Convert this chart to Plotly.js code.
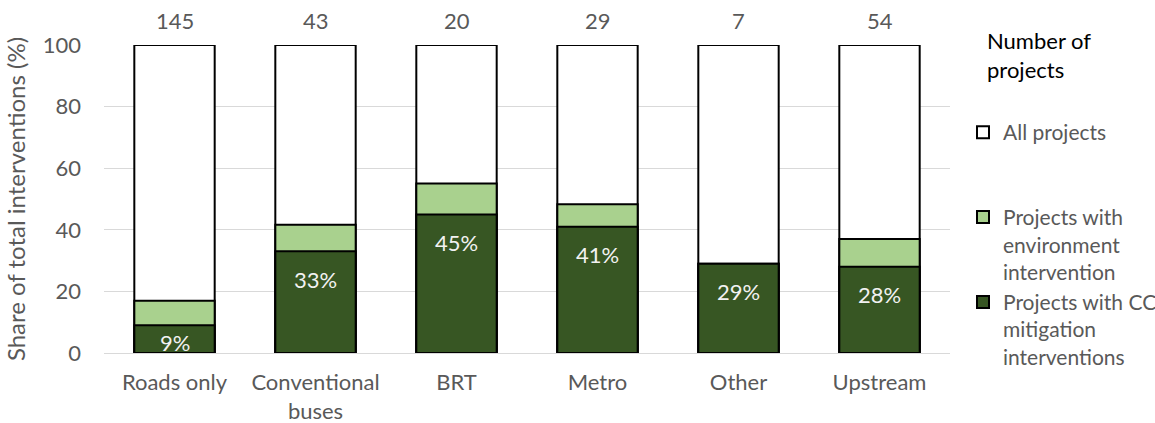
<!DOCTYPE html>
<html>
<head>
<meta charset="utf-8">
<script src="https://cdn.plot.ly/plotly-3.0.1.min.js"></script>
<style>html,body{margin:0;padding:0;background:#fff;}#chart{width:1155px;height:423px;}</style>
</head>
<body>
<div id="chart"></div>
<script>
const categories = ["Roads only", "Conventional<br>buses", "BRT", "Metro", "Other", "Upstream"];
const projectCounts = [145, 43, 20, 29, 7, 54];
const allProjects = [100, 100, 100, 100, 100, 100];
const envShare = [17, 41.6, 55, 48.3, 29, 37];
const ccShare = [9, 33, 45, 41, 29, 28];
const ccLabels = ["9%", "33%", "45%", "41%", "29%", "28%"];

const FONT = "Lato, 'Open Sans', sans-serif";
const GRAY = "#595959";
const FS = 22;

const traces = [
  {
    type: "bar", name: "All projects<br> <br> ", x: categories, y: allProjects,
    marker: {color: "#ffffff", line: {color: "#000000", width: 2}},
    hoverinfo: "none"
  },
  {
    type: "bar", name: "Projects with<br>environment<br>intervention", x: categories, y: envShare,
    marker: {color: "#a9d18e", line: {color: "#000000", width: 2}},
    hoverinfo: "none"
  },
  {
    type: "bar", name: "Projects with CC<br>mitigation<br>interventions", x: categories, y: ccShare,
    marker: {color: "#375623", line: {color: "#000000", width: 2}},
    hoverinfo: "none"
  }
];

const annotations = [];
categories.forEach((c, i) => {
  annotations.push({
    x: c, y: allProjects[i], xref: "x", yref: "y", yanchor: "bottom", yshift: 9,
    text: String(projectCounts[i]), showarrow: false,
    font: {family: FONT, size: FS, color: GRAY}
  });
  annotations.push({
    x: c, y: Math.max(ccShare[i] - 9, 3.3), xref: "x", yref: "y", yanchor: "middle",
    text: ccLabels[i], showarrow: false,
    font: {family: FONT, size: FS, color: "#f2f2f2"}
  });
});
annotations.push({
  x: (985 - 104) / 846, y: (353 - 25) / 308, xref: "paper", yref: "paper",
  xanchor: "left", yanchor: "top", align: "left",
  text: "Number of<br>projects", showarrow: false,
  font: {family: FONT, size: FS, color: "#000000"}
});

const layout = {
  width: 1155, height: 423,
  margin: {l: 104, r: 205, t: 45, b: 70},
  paper_bgcolor: "#ffffff", plot_bgcolor: "#ffffff",
  barmode: "overlay", bargap: 0.43,
  font: {family: FONT, size: FS, color: GRAY},
  xaxis: {
    showgrid: false, zeroline: false, showline: false, ticks: "",
    ticklabelstandoff: 14, automargin: false,
    tickfont: {family: FONT, size: FS, color: GRAY}
  },
  yaxis: {
    range: [0, 100], dtick: 20, showgrid: true, gridcolor: "#d9d9d9", gridwidth: 1,
    zeroline: true, zerolinecolor: "#d9d9d9", zerolinewidth: 1, showline: false, ticks: "",
    ticklabelstandoff: 22, automargin: false,
    tickfont: {family: FONT, size: FS, color: GRAY},
    title: {text: "Share of total interventions (%)", font: {family: FONT, size: 24, color: GRAY}, standoff: 10}
  },
  annotations: annotations,
  showlegend: true,
  legend: {
    xref: "container", yref: "container",
    x: 963 / 1155, xanchor: "left", y: 1 - 112 / 423, yanchor: "top",
    traceorder: "normal", valign: "top", maxheight: 400,
    font: {family: FONT, size: 21, color: GRAY},
    itemwidth: 30, bgcolor: "rgba(0,0,0,0)"
  }
};

Plotly.newPlot("chart", traces, layout, {displayModeBar: false, staticPlot: true});
</script>
</body>
</html>
